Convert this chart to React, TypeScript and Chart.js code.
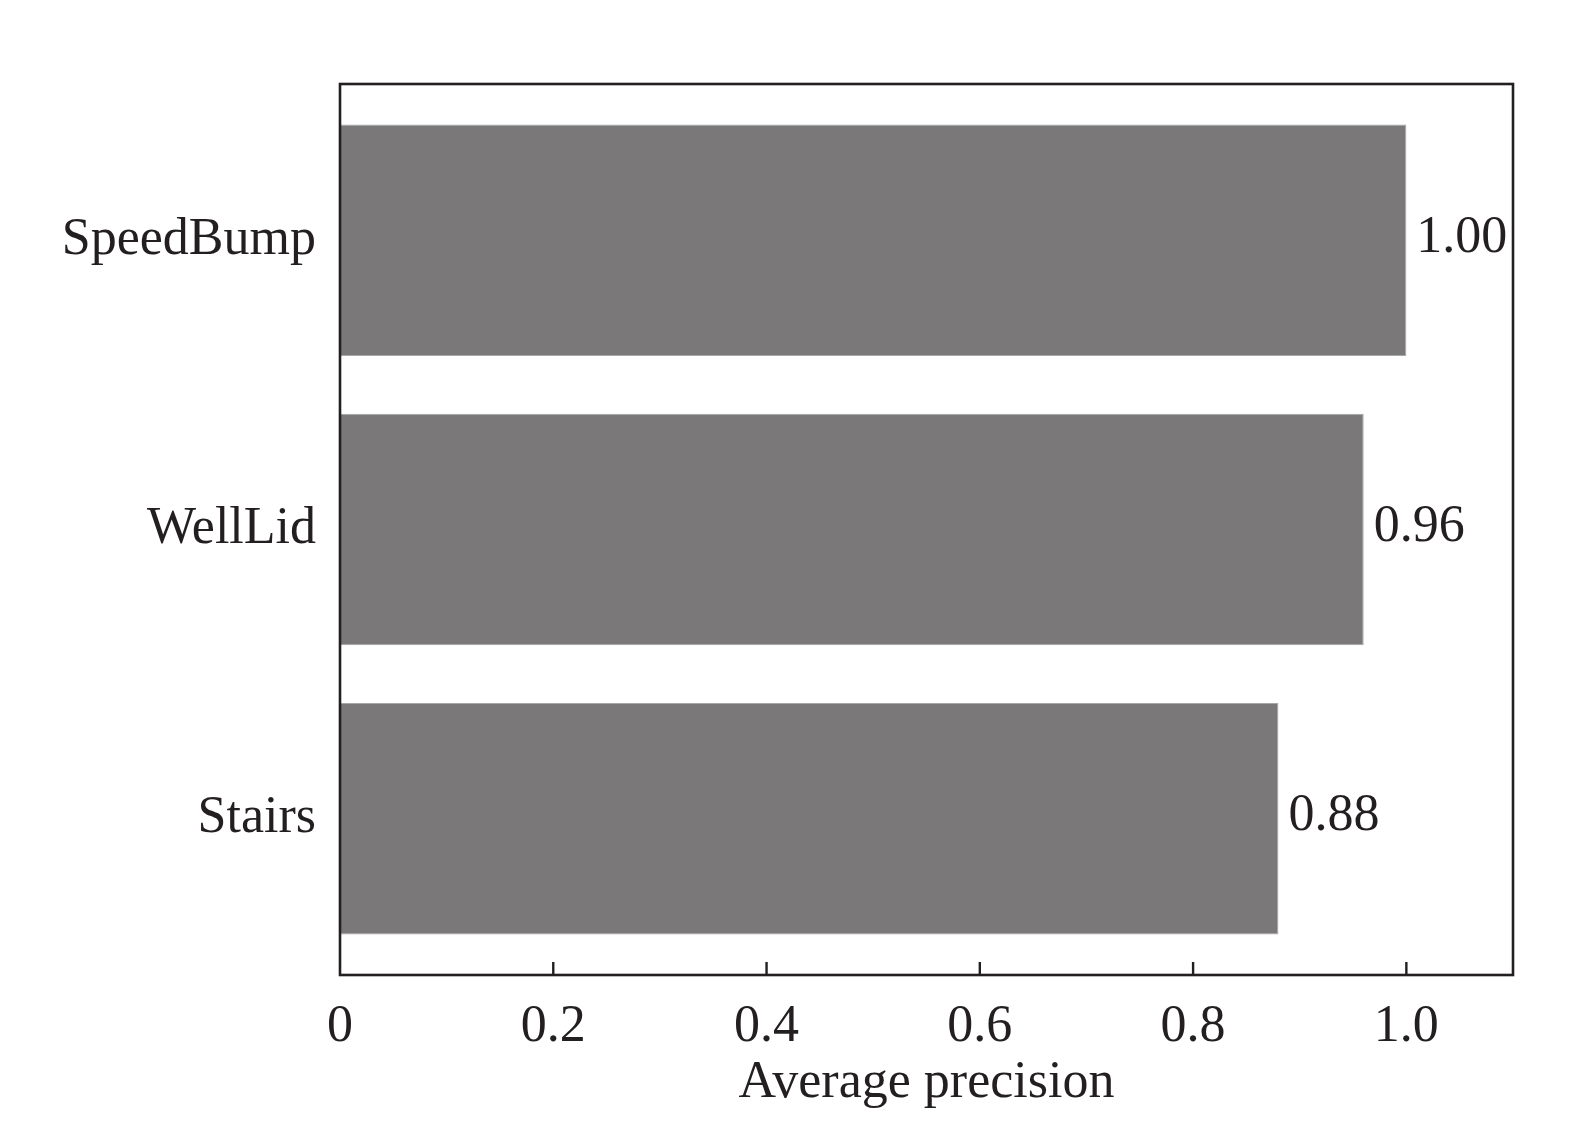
import { useEffect, useRef } from "react"
import { Chart, registerables, Plugin } from "chart.js"

Chart.register(...registerables)

// categories from bottom (y = 0) to top, like matplotlib's barh
const CATEGORIES = ["Stairs", "WellLid", "SpeedBump"]
const AP_VALUES = [0.88, 0.96, 1.0]
const X_TICKS = [0, 0.2, 0.4, 0.6, 0.8, 1.0]
const X_TICK_LABELS = ["0", "0.2", "0.4", "0.6", "0.8", "1.0"]

const FONT = "'Liberation Serif', 'Times New Roman', serif"
const TEXT_COLOR = "#231f20"
const BAR_COLOR = "#7a7879"
const FONT_SIZE = 52

// frame around the plot area + inward ticks on the bottom axis
const framePlugin: Plugin<"bar"> = {
  id: "frame",
  afterDraw(chart) {
    const { ctx, chartArea } = chart
    const xs = chart.scales.x
    ctx.save()
    ctx.strokeStyle = TEXT_COLOR
    ctx.lineWidth = 2.6
    ctx.strokeRect(chartArea.left, chartArea.top, chartArea.right - chartArea.left, chartArea.bottom - chartArea.top)
    ctx.lineWidth = 2.4
    X_TICKS.forEach(t => {
      if (t === 0) return
      const px = xs.getPixelForValue(t)
      ctx.beginPath()
      ctx.moveTo(px, chartArea.bottom)
      ctx.lineTo(px, chartArea.bottom - 13)
      ctx.stroke()
    })
    ctx.restore()
  }
}

// value labels to the right of each bar
const valueLabelPlugin: Plugin<"bar"> = {
  id: "valueLabels",
  afterDatasetsDraw(chart) {
    const { ctx } = chart
    const meta = chart.getDatasetMeta(0)
    ctx.save()
    ctx.font = `${FONT_SIZE}px ${FONT}`
    ctx.fillStyle = TEXT_COLOR
    ctx.textAlign = "left"
    ctx.textBaseline = "middle"
    meta.data.forEach((bar: any, i: number) => {
      ctx.fillText(AP_VALUES[i].toFixed(2), bar.x + 10, bar.y - 2)
    })
    ctx.restore()
  }
}

function APChart() {
  const canvasRef = useRef<HTMLCanvasElement>(null)

  useEffect(() => {
    if (!canvasRef.current) return

    const chart = new Chart(canvasRef.current, {
      type: "bar",
      data: {
        datasets: [{
          label: "Average precision",
          data: AP_VALUES.map((v, i) => ({ x: v, y: i })) as any,
          backgroundColor: BAR_COLOR,
          borderColor: "#a8a7a7",
          borderWidth: 1,
          categoryPercentage: 1,
          barPercentage: 0.8
        }]
      },
      options: {
        indexAxis: "y",
        animation: false,
        responsive: true,
        maintainAspectRatio: false,
        layout: { padding: { top: 84, right: 62, left: 0, bottom: 0 } },
        plugins: {
          legend: { display: false },
          tooltip: { enabled: false }
        },
        scales: {
          x: {
            type: "linear",
            min: 0,
            max: 1.1,
            afterBuildTicks: (scale: any) => {
              scale.ticks = X_TICKS.map(v => ({ value: v }))
            },
            afterFit: (scale: any) => {
              scale.height = 147
            },
            grid: { display: false },
            border: { display: false },
            ticks: {
              font: { family: FONT, size: FONT_SIZE },
              color: TEXT_COLOR,
              padding: 13,
              maxRotation: 0,
              callback: (v: any) => X_TICK_LABELS[X_TICKS.indexOf(Number(v))] ?? ""
            },
            title: {
              display: true,
              text: "Average precision",
              font: { family: FONT, size: FONT_SIZE },
              color: TEXT_COLOR,
              padding: { top: 0, bottom: 7 }
            }
          },
          y: {
            type: "linear",
            offset: false,
            min: -0.54,
            max: 2.54,
            afterBuildTicks: (scale: any) => {
              scale.ticks = CATEGORIES.map((_, i) => ({ value: i }))
            },
            afterFit: (scale: any) => {
              scale.width = 340
            },
            grid: { display: false },
            border: { display: false },
            ticks: {
              font: { family: FONT, size: FONT_SIZE },
              color: TEXT_COLOR,
              padding: 16,
              callback: (v: any) => CATEGORIES[Number(v)] ?? ""
            }
          }
        }
      },
      plugins: [valueLabelPlugin, framePlugin]
    })

    return () => chart.destroy()
  }, [])

  return (
    <div style={{ position: "fixed", left: 0, top: 0, width: 1575, height: 1122, background: "#fff" }}>
      <canvas ref={canvasRef} />
    </div>
  )
}

export default function App() {
  return <APChart />
}
